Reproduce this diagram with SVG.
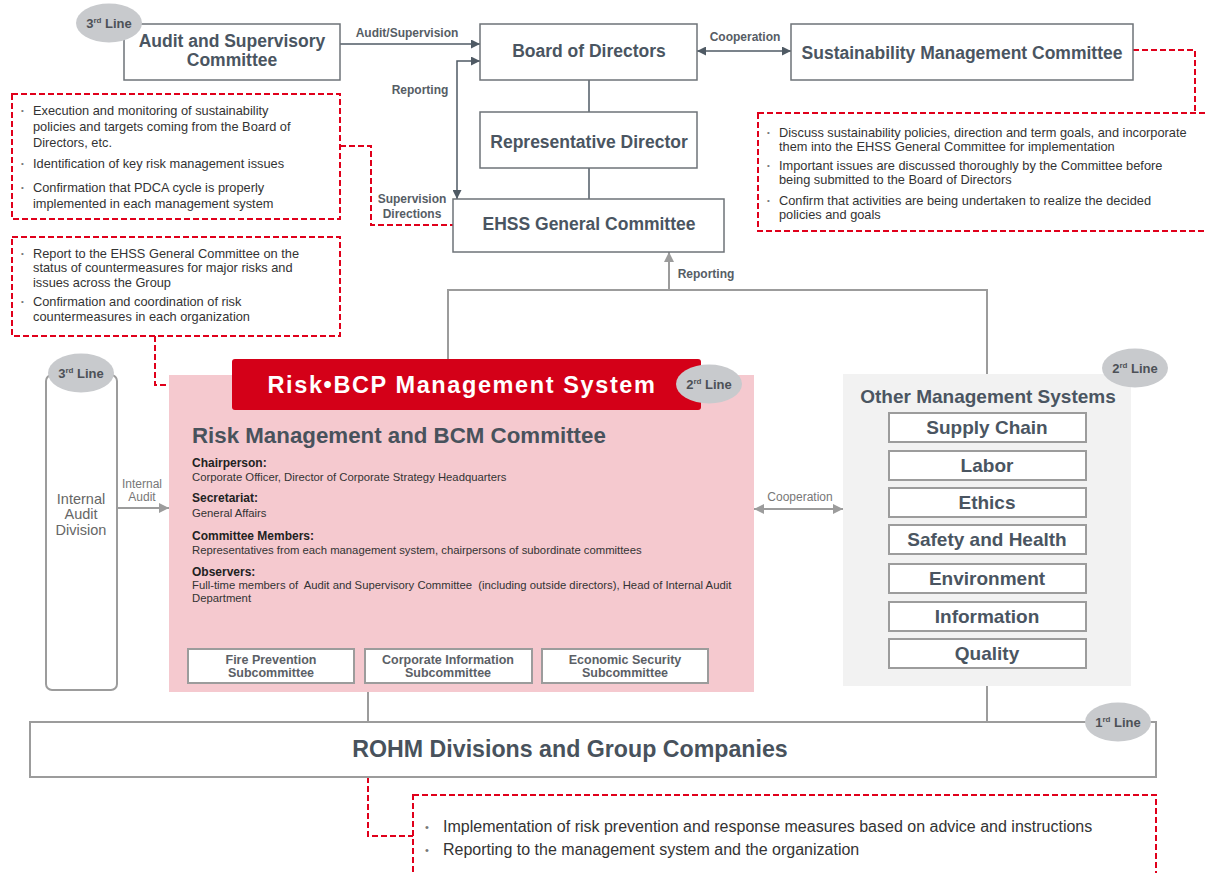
<svg xmlns="http://www.w3.org/2000/svg" width="1206" height="873" viewBox="0 0 1206 873">
<defs>
<marker id="arrD" viewBox="0 0 10 10" refX="10" refY="5" markerWidth="10" markerHeight="9" markerUnits="userSpaceOnUse" orient="auto-start-reverse"><path d="M0,0 L10,5 L0,10 z" fill="#4f5a64"/></marker>
<marker id="arrG" viewBox="0 0 10 10" refX="10" refY="5" markerWidth="11" markerHeight="10" markerUnits="userSpaceOnUse" orient="auto-start-reverse"><path d="M0,0 L10,5 L0,10 z" fill="#9c9c9c"/></marker>
<style>
text{font-family:"Liberation Sans",Arial,sans-serif}
.topbox{fill:#fff;stroke:#6e7378;stroke-width:1.5}
.topt{font-weight:bold;fill:#4a5561;text-anchor:middle;font-size:17.5px}
.lbl{font-weight:bold;font-size:12px;fill:#565d65;text-anchor:middle}
.cd{stroke:#4f5a64;stroke-width:1.5;fill:none}
.cg{stroke:#9c9c9c;stroke-width:2;fill:none}
.red{stroke:#e0001b;stroke-width:2;stroke-dasharray:6 3;fill:none}
.note{font-size:12.8px;fill:#333}
.bul{font-size:8px;fill:#777}
.ell{fill:#c8cacd}
.ellt{font-weight:bold;font-size:13px;fill:#4d5157;text-anchor:middle}
.gbox{fill:#fff;stroke:#9c9c9c;stroke-width:2}
.item{font-weight:bold;font-size:19px;fill:#4a5561;text-anchor:middle}
.sub{font-weight:bold;font-size:12.5px;fill:#5b6066;text-anchor:middle}
.hd{font-weight:bold;font-size:12px;fill:#222}
.bd{font-size:11.3px;fill:#333}
</style>
</defs>

<g id="connectors">
<path class="cd" d="M340,44 H480" marker-end="url(#arrD)"/>
<path class="cd" d="M697,51 H791" marker-start="url(#arrD)" marker-end="url(#arrD)"/>
<path class="cd" d="M480,61 H457 V199" marker-start="url(#arrD)" marker-end="url(#arrD)"/>
<path class="cd" d="M589,80 V112"/>
<path class="cd" d="M589,168 V199"/>
<path class="cg" d="M448,359 V290 H987 V374"/>
<path class="cg" d="M669,290 V252" marker-end="url(#arrG)"/>
<path class="cg" d="M117,508 H169" marker-end="url(#arrG)"/>
<path class="cg" d="M754,509 H843" marker-start="url(#arrG)" marker-end="url(#arrG)"/>
<path class="cg" d="M368,692 V722"/>
<path class="cg" d="M987,686 V722"/>
<path class="red" d="M1133,50 H1195 V113"/>
<path class="red" d="M340,146 H371 V225 H453"/>
<path class="red" d="M155,336 V385 H232"/>
<path class="red" d="M368,777 V836 H413"/>
<text class="lbl" x="407" y="37">Audit/Supervision</text>
<text class="lbl" x="745" y="41">Cooperation</text>
<text class="lbl" x="420" y="94">Reporting</text>
<text class="lbl" x="412" y="203">Supervision</text>
<text class="lbl" x="412" y="218">Directions</text>
<text class="lbl" x="706" y="278" fill="#666">Reporting</text>
<text x="142" y="488" font-size="12" fill="#777" text-anchor="middle">Internal</text>
<text x="142" y="501" font-size="12" fill="#777" text-anchor="middle">Audit</text>
<text x="800" y="501" font-size="12" fill="#777" text-anchor="middle">Cooperation</text>
</g>

<g id="audit-committee">
<rect class="topbox" x="124" y="24" width="216" height="56"/>
<text class="topt" x="232" y="47">Audit and Supervisory</text>
<text class="topt" x="232" y="66">Committee</text>
<ellipse class="ell" cx="109" cy="23" rx="33" ry="19.5"/>
<text class="ellt" x="109" y="28">3<tspan font-size="8" dy="-5">rd</tspan><tspan dy="5"> Line</tspan></text>
</g>

<g id="board">
<rect class="topbox" x="480" y="24" width="217" height="56"/>
<text class="topt" x="589" y="57">Board of Directors</text>
</g>

<g id="sustainability-committee">
<rect class="topbox" x="791" y="24" width="342" height="56"/>
<text class="topt" x="962" y="59">Sustainability Management Committee</text>
</g>

<g id="rep-director">
<rect class="topbox" x="480" y="112" width="217" height="56"/>
<text class="topt" x="589" y="148">Representative Director</text>
</g>

<g id="ehss">
<rect class="topbox" x="453" y="199" width="271" height="53"/>
<text class="topt" x="589" y="230">EHSS General Committee</text>
</g>

<g id="note-ehss">
<rect class="red" x="12" y="94" width="328" height="125"/>
<text class="bul" x="21" y="113">•</text>
<text class="note" x="33" y="115">Execution and monitoring of sustainability</text>
<text class="note" x="33" y="131">policies and targets coming from the Board of</text>
<text class="note" x="33" y="147">Directors, etc.</text>
<text class="bul" x="21" y="166">•</text>
<text class="note" x="33" y="168">Identification of key risk management issues</text>
<text class="bul" x="21" y="190">•</text>
<text class="note" x="33" y="192">Confirmation that PDCA cycle is properly</text>
<text class="note" x="33" y="208">implemented in each management system</text>
</g>

<g id="note-sustainability">
<rect class="red" x="758" y="113" width="470" height="118"/>
<text class="bul" x="767" y="135">•</text>
<text class="note" x="779" y="137">Discuss sustainability policies, direction and term goals, and incorporate</text>
<text class="note" x="779" y="151">them into the EHSS General Committee for implementation</text>
<text class="bul" x="767" y="168">•</text>
<text class="note" x="779" y="170">Important issues are discussed thoroughly by the Committee before</text>
<text class="note" x="779" y="184">being submitted to the Board of Directors</text>
<text class="bul" x="767" y="203">•</text>
<text class="note" x="779" y="205">Confirm that activities are being undertaken to realize the decided</text>
<text class="note" x="779" y="219">policies and goals</text>
</g>

<g id="note-risk">
<rect class="red" x="12" y="237" width="328" height="99"/>
<text class="bul" x="21" y="256">•</text>
<text class="note" x="33" y="258">Report to the EHSS General Committee on the</text>
<text class="note" x="33" y="272">status of countermeasures for major risks and</text>
<text class="note" x="33" y="287">issues across the Group</text>
<text class="bul" x="21" y="304">•</text>
<text class="note" x="33" y="306">Confirmation and coordination of risk</text>
<text class="note" x="33" y="321">countermeasures in each organization</text>
</g>

<g id="internal-audit">
<rect x="46" y="375" width="71" height="315" rx="6" fill="#fff" stroke="#9c9c9c" stroke-width="2"/>
<text x="81" y="504" font-size="14.5" fill="#666" text-anchor="middle">Internal</text>
<text x="81" y="519" font-size="14.5" fill="#666" text-anchor="middle">Audit</text>
<text x="81" y="535" font-size="14.5" fill="#666" text-anchor="middle">Division</text>
<ellipse class="ell" cx="81" cy="373" rx="33" ry="19.5"/>
<text class="ellt" x="81" y="378">3<tspan font-size="8" dy="-5">rd</tspan><tspan dy="5"> Line</tspan></text>
</g>

<g id="risk-bcp">
<rect x="169" y="375" width="585" height="317" fill="#f5c9cf"/>
<rect x="232" y="359" width="469" height="51" rx="3" fill="#d40018"/>
<text x="462" y="393" font-size="23.5" font-weight="bold" fill="#fff" text-anchor="middle" letter-spacing="1.6">Risk•BCP Management System</text>
<ellipse class="ell" cx="709" cy="384" rx="33" ry="19.5"/>
<text class="ellt" x="709" y="389">2<tspan font-size="8" dy="-5">rd</tspan><tspan dy="5"> Line</tspan></text>
<text x="192" y="443" font-size="22.3" font-weight="bold" fill="#48525c">Risk Management and BCM Committee</text>
<text class="hd" x="192" y="467">Chairperson:</text>
<text class="bd" x="192" y="481">Corporate Officer, Director of Corporate Strategy Headquarters</text>
<text class="hd" x="192" y="502">Secretariat:</text>
<text class="bd" x="192" y="517">General Affairs</text>
<text class="hd" x="192" y="540">Committee Members:</text>
<text class="bd" x="192" y="554">Representatives from each management system, chairpersons of subordinate committees</text>
<text class="hd" x="192" y="576">Observers:</text>
<text class="bd" x="192" y="589" xml:space="preserve">Full-time members of  Audit and Supervisory Committee  (including outside directors), Head of Internal Audit</text>
<text class="bd" x="192" y="602">Department</text>
</g>

<g id="fire-sub">
<rect class="gbox" x="188" y="649" width="166" height="34"/>
<text class="sub" x="271" y="664">Fire Prevention</text>
<text class="sub" x="271" y="677">Subcommittee</text>
</g>
<g id="corp-info-sub">
<rect class="gbox" x="365" y="649" width="167" height="34"/>
<text class="sub" x="448" y="664">Corporate Information</text>
<text class="sub" x="448" y="677">Subcommittee</text>
</g>
<g id="econ-sub">
<rect class="gbox" x="542" y="649" width="166" height="34"/>
<text class="sub" x="625" y="664">Economic Security</text>
<text class="sub" x="625" y="677">Subcommittee</text>
</g>

<g id="other-systems">
<rect x="843" y="374" width="288" height="312" fill="#f2f2f2"/>
<text x="988" y="403" font-size="19" font-weight="bold" fill="#4a5561" text-anchor="middle">Other Management Systems</text>
<ellipse class="ell" cx="1135" cy="368" rx="33" ry="19.5"/>
<text class="ellt" x="1135" y="373">2<tspan font-size="8" dy="-5">rd</tspan><tspan dy="5"> Line</tspan></text>
</g>
<g id="supply-chain"><rect class="gbox" x="889" y="413" width="197" height="29"/><text class="item" x="987" y="434">Supply Chain</text></g>
<g id="labor"><rect class="gbox" x="889" y="451" width="197" height="29"/><text class="item" x="987" y="472">Labor</text></g>
<g id="ethics"><rect class="gbox" x="889" y="488" width="197" height="29"/><text class="item" x="987" y="509">Ethics</text></g>
<g id="safety"><rect class="gbox" x="889" y="525" width="197" height="29"/><text class="item" x="987" y="546">Safety and Health</text></g>
<g id="environment"><rect class="gbox" x="889" y="564" width="197" height="29"/><text class="item" x="987" y="585">Environment</text></g>
<g id="information"><rect class="gbox" x="889" y="602" width="197" height="29"/><text class="item" x="987" y="623">Information</text></g>
<g id="quality"><rect class="gbox" x="889" y="639" width="197" height="29"/><text class="item" x="987" y="660">Quality</text></g>

<g id="rohm">
<rect x="30" y="722" width="1126" height="55" fill="#fff" stroke="#9c9c9c" stroke-width="2"/>
<text x="570" y="757" font-size="23.2" font-weight="bold" fill="#48525c" text-anchor="middle">ROHM Divisions and Group Companies</text>
<ellipse class="ell" cx="1118" cy="722" rx="33" ry="19.5"/>
<text class="ellt" x="1118" y="727">1<tspan font-size="8" dy="-5">rd</tspan><tspan dy="5"> Line</tspan></text>
</g>

<g id="note-rohm">
<rect class="red" x="413" y="795" width="743" height="110"/>
<text x="425" y="831" font-size="11" fill="#777">•</text>
<text x="443" y="832" font-size="16" fill="#333">Implementation of risk prevention and response measures based on advice and instructions</text>
<text x="425" y="854" font-size="11" fill="#777">•</text>
<text x="443" y="855" font-size="16" fill="#333">Reporting to the management system and the organization</text>
</g>
</svg>
